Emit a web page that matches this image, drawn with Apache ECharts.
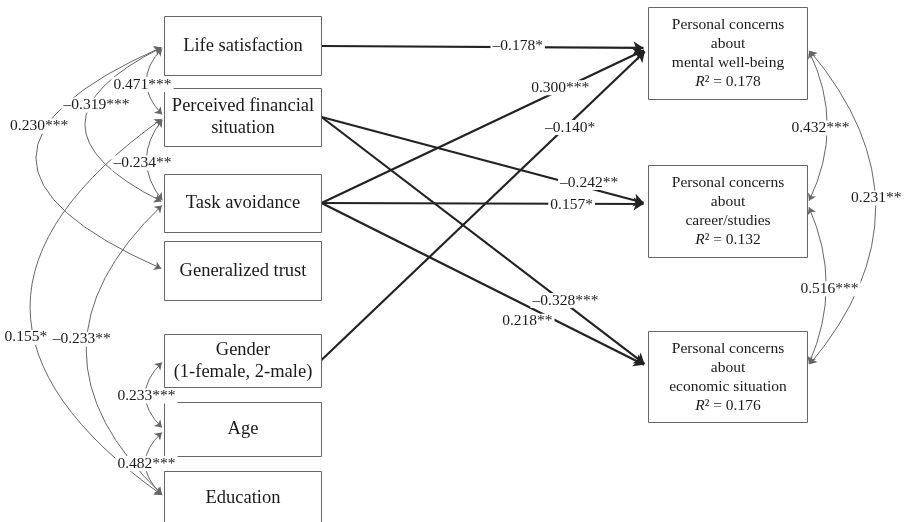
<!DOCTYPE html>
<html>
<head>
<meta charset="utf-8">
<script src="https://cdn.jsdelivr.net/npm/echarts@6/dist/echarts.min.js"></script>
<style>
  html, body { margin: 0; padding: 0; background: #fff; }
  #main { width: 908px; height: 522px; }
</style>
</head>
<body>
<div id="main"></div>
<script>
// ---- data ----
var predictorIds = ['life', 'fin', 'task', 'trust', 'gender', 'age', 'edu'];
var predictorNames = ['Life satisfaction', 'Perceived financial\nsituation', 'Task avoidance',
                      'Generalized trust', 'Gender\n(1-female, 2-male)', 'Age', 'Education'];
var outcomeIds = ['mental', 'career', 'econ'];
var outcomeNames = ['mental well-being', 'career/studies', 'economic situation'];
var outcomeR2 = ['0.178', '0.132', '0.176'];

// regression paths (from -> to, standardized coefficient)
var pathFrom = ['life', 'task', 'gender', 'fin', 'task', 'fin', 'task'];
var pathTo   = ['mental', 'mental', 'mental', 'career', 'career', 'econ', 'econ'];
var pathCoef = ['–0.178*', '0.300***', '–0.140*', '–0.242**', '0.157*', '–0.328***', '0.218**'];

// correlations (double headed)
var covFrom = ['life', 'fin', 'life', 'life', 'fin', 'task', 'gender', 'age', 'mental', 'career', 'mental'];
var covTo   = ['fin', 'task', 'task', 'trust', 'edu', 'edu', 'age', 'edu', 'career', 'econ', 'econ'];
var covCoef = ['0.471***', '–0.234**', '–0.319***', '0.230***', '0.155*', '–0.233**',
               '0.233***', '0.482***', '0.432***', '0.516***', '0.231**'];

// ---- layout (pixel units of the hidden value axes) ----
var boxLayout = {            // x, y, w, h
  life:   [164.5, 16.5, 157, 59],
  fin:    [164.5, 88.5, 157, 58],
  task:   [164.5, 174.5, 157, 58],
  trust:  [164.5, 241.5, 157, 59],
  gender: [164.5, 334.5, 157, 53],
  age:    [164.5, 402.5, 157, 54],
  edu:    [164.5, 471.5, 157, 53],
  mental: [648.5, 7.5, 159, 92],
  career: [648.5, 165.5, 159, 92],
  econ:   [648.5, 331.5, 159, 91]
};
var anchorY = { life: 46, fin: 117, task: 203, trust: 270, gender: 360, age: 430, edu: 497,
                mental: 48, career: 204, econ: 367 };
// label spot along each path: [t, dx, dy]
var pathLabelPos = [[0.60, 0, -1], [0.73, 0, -2], [0.745, 5, 0], [0.80, 6, -4],
                    [0.765, 0, 1], [0.746, 0, -3], [0.66, -10, 10]];
// correlation arcs: [bulge px, label t, dx, dy]
var covShape = [[17, 0.5, -5, 3], [17, 0.5, -5, 3], [78, 0.35, 3, 4], [127, 0.37, -7, -3],
                [133, 0.58, -9, 0], [77, 0.47, -6, -2], [18, 0.5, 0, 1], [18, 0.5, 0, 0],
                [19, 0.5, -6, 2], [18, 0.52, 4, 0], [67, 0.47, 2, 0]];

var PATH_ARROW = 10, COV_ARROW = 7;
var FONT = '"Liberation Serif"';
var TEXT = '#1a1a1a';
var COEF_FONT = '15.5px ' + FONT;

function leftPort(id) { return [boxLayout[id][0], anchorY[id]]; }
function rightPort(id) { var b = boxLayout[id]; return [b[0] + b[2], anchorY[id]]; }
function toward(p, q, d) {
  var dx = q[0] - p[0], dy = q[1] - p[1], l = Math.sqrt(dx * dx + dy * dy);
  return [p[0] + dx / l * d, p[1] + dy / l * d];
}

var pathLines = [], coefPoints = [], coefText = [];
pathFrom.forEach(function (f, i) {
  var p1 = rightPort(f), p2 = leftPort(pathTo[i]);
  var dx = p2[0] - p1[0], dy = p2[1] - p1[1];
  pathLines.push({ coords: [p1, toward(p2, p1, PATH_ARROW / 2)] });
  var lp = pathLabelPos[i];
  coefPoints.push([p1[0] + dx * lp[0] + lp[1], p1[1] + dy * lp[0] + lp[2]]);
  coefText.push(pathCoef[i]);
});

var covLines = [];
covFrom.forEach(function (f, i) {
  var t = covTo[i];
  var right = boxLayout[f][0] > 450;
  var p1 = right ? rightPort(f) : leftPort(f);
  var p2 = right ? rightPort(t) : leftPort(t);
  var sh = covShape[i];
  var cp = [(p1[0] + p2[0]) / 2 + (right ? 1 : -1) * 2 * sh[0], (p1[1] + p2[1]) / 2];
  var a = toward(p1, cp, COV_ARROW / 2), b = toward(p2, cp, COV_ARROW / 2);
  var dx = b[0] - a[0], dy = b[1] - a[1];
  var m = [(a[0] + b[0]) / 2, (a[1] + b[1]) / 2];
  var c = ((cp[0] - m[0]) * dy - (cp[1] - m[1]) * dx) / (dx * dx + dy * dy);
  covLines.push({ coords: [a, b], lineStyle: { curveness: c } });
  var s = sh[1], u = 1 - s;
  coefPoints.push([u * u * p1[0] + 2 * u * s * cp[0] + s * s * p2[0] + sh[2],
                   u * u * p1[1] + 2 * u * s * cp[1] + s * s * p2[1] + sh[3]]);
  coefText.push(covCoef[i]);
});

// boxes: corner + size taken from the layout, text from the data arrays
var boxIds = predictorIds.concat(outcomeIds);
var boxText = predictorNames.concat(outcomeIds.map(function (id, i) {
  return 'Personal concerns\nabout\n' + outcomeNames[i] + '\n{i|R}² = ' + outcomeR2[i];
}));
var boxPoints = boxIds.map(function (id) { return boxLayout[id].slice(); });

var measureCtx = document.createElement('canvas').getContext('2d');
measureCtx.font = COEF_FONT;

var chart = echarts.init(document.getElementById('main'));

chart.setOption({
  animation: false,
  backgroundColor: '#fff',
  grid: { left: 0, right: 0, top: 0, bottom: 0 },
  xAxis: { type: 'value', min: 0, max: 908, show: false },
  yAxis: { type: 'value', min: 0, max: 522, inverse: true, show: false },
  series: [
    {
      type: 'lines', coordinateSystem: 'cartesian2d', z: 2,
      symbol: ['none', 'arrow'], symbolSize: PATH_ARROW,
      lineStyle: { color: '#222', width: 2.2, opacity: 1 },
      data: pathLines
    },
    {
      type: 'lines', coordinateSystem: 'cartesian2d', z: 2,
      symbol: ['arrow', 'arrow'], symbolSize: COV_ARROW,
      lineStyle: { color: '#666', width: 1, opacity: 1 },
      data: covLines
    },
    {
      type: 'custom', coordinateSystem: 'cartesian2d', z: 3,
      encode: { x: 0, y: 1 },
      data: boxPoints,
      renderItem: function (params, api) {
        var p = api.coord([api.value(0), api.value(1)]);
        var sz = api.size([api.value(2), api.value(3)]);
        var outcome = params.dataIndex >= predictorIds.length;
        var fs = outcome ? 15.5 : 18.5, lh = outcome ? 19 : 22;
        return {
          type: 'group',
          children: [
            { type: 'rect', shape: { x: p[0], y: p[1], width: sz[0], height: sz[1] },
              style: { fill: '#fff', stroke: '#666', lineWidth: 1 } },
            { type: 'text', x: p[0] + sz[0] / 2, y: p[1] + sz[1] / 2,
              style: {
                text: boxText[params.dataIndex], fill: TEXT, align: 'center', verticalAlign: 'middle',
                font: fs + 'px ' + FONT, lineHeight: lh,
                rich: { i: { fontStyle: 'italic', fontFamily: 'Liberation Serif', fontSize: fs,
                             lineHeight: lh, fill: TEXT } }
              } }
          ]
        };
      }
    },
    {
      type: 'custom', coordinateSystem: 'cartesian2d', z: 5,
      encode: { x: 0, y: 1 },
      data: coefPoints,
      renderItem: function (params, api) {
        var p = api.coord([api.value(0), api.value(1)]);
        var txt = coefText[params.dataIndex];
        var w = measureCtx.measureText(txt).width + 4, h = 15;
        return {
          type: 'group',
          children: [
            { type: 'rect', shape: { x: p[0] - w / 2, y: p[1] - h / 2, width: w, height: h },
              style: { fill: '#fff' } },
            { type: 'text', x: p[0], y: p[1],
              style: { text: txt, font: COEF_FONT, fill: TEXT, align: 'center', verticalAlign: 'middle' } }
          ]
        };
      }
    }
  ]
});
</script>
</body>
</html>
